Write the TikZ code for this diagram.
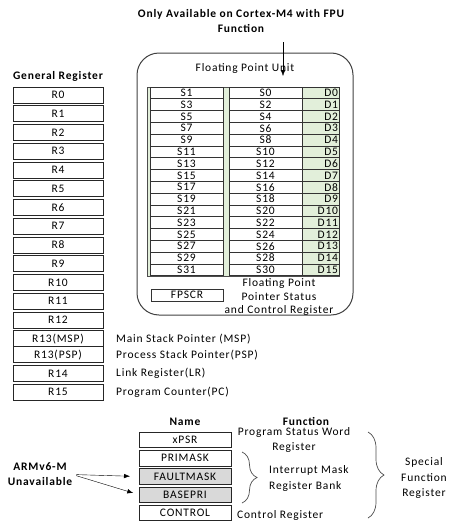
\documentclass[tikz,border=0pt]{standalone}
\usepackage{fontspec}
\setmainfont{Carlito}[LetterSpace=7]
\usetikzlibrary{positioning, arrows.meta, decorations.pathreplacing}

\definecolor{fpgreen}{RGB}{226,239,218}
\definecolor{maskgray}{RGB}{217,217,217}
\newcommand\dfont{\fontsize{11.5}{14}\selectfont}

\tikzset{
	every node/.style = {font=\dfont},
	reg/.style		= {draw=black!85, line width=0.9pt, minimum width=90pt, minimum height=16pt, inner sep=0pt, outer sep=0pt},
	spec/.style		= {reg, minimum width=92pt, minimum height=15.5pt},
	scell/.style	= {draw=black!80, line width=0.7pt, fill=white, minimum width=73pt, minimum height=11.8pt, inner sep=0pt, outer sep=0pt},
	dcell/.style	= {scell, fill=fpgreen, minimum width=37pt, text width=35pt, align=right},
	fpubox/.style	= {draw=black!75, line width=1pt, rounded corners=22pt, minimum width=216pt, minimum height=262pt},
	title/.style	= {font=\dfont\bfseries, inner sep=0pt},
	note/.style		= {inner sep=0pt},
	brc/.style		= {draw=black!70, line width=0.7pt, decorate, decoration={brace, amplitude=15pt}},
}

\begin{document}
\begin{tikzpicture}[x=1pt, y=-1pt, >={Latex[length=6pt, width=4.5pt]}]
	\useasboundingbox (0,0) rectangle (458,530);

	% general registers
	\node[title] 	(gentitle)	at (58,76)				{General Register};
	\node[reg] 		(r0)		at (58,95)				{R0};
	\node[reg] 		(r1)		[below=2.75pt of r0]	{R1};
	\node[reg] 		(r2)		[below=2.75pt of r1]	{R2};
	\node[reg] 		(r3)		[below=2.75pt of r2]	{R3};
	\node[reg] 		(r4)		[below=2.75pt of r3]	{R4};
	\node[reg] 		(r5)		[below=2.75pt of r4]	{R5};
	\node[reg] 		(r6)		[below=2.75pt of r5]	{R6};
	\node[reg] 		(r7)		[below=2.75pt of r6]	{R7};
	\node[reg] 		(r8)		[below=2.75pt of r7]	{R8};
	\node[reg] 		(r9)		[below=2.75pt of r8]	{R9};
	\node[reg] 		(r10)		[below=2.75pt of r9]	{R10};
	\node[reg] 		(r11)		[below=2.75pt of r10]	{R11};
	\node[reg] 		(r12)		[below=2.75pt of r11]	{R12};
	\node[reg] 		(msp)		[below=2.75pt of r12]	{R13(MSP)};
	\node[reg] 		(psp)		[below=0pt of msp]		{R13(PSP)};
	\node[reg] 		(r14)		[below=2.75pt of psp]	{R14};
	\node[reg] 		(r15)		[below=2.75pt of r14]	{R15};

	\node[note] 	(msptxt)	[right=13pt of msp]		{Main Stack Pointer (MSP)};
	\node[note] 	(psptxt)	[right=13pt of psp]		{Process Stack Pointer(PSP)};
	\node[note] 	(lrtxt)		[right=13pt of r14]		{Link Register(LR)};
	\node[note] 	(pctxt)		[right=13pt of r15]		{Program Counter(PC)};

	% floating point unit
	\node[title, align=center] (avail) at (241,21.5) {Only Available on Cortex-M4 with FPU\\[1pt]Function};
	\node[fpubox] 	(fpu)		at (245,184)			{};
	\node[note] 	(fputitle)	[below=11pt of fpu.north] {Floating Point Unit};
	\coordinate 	(fpuarrow)	at (283,42);
	\coordinate 	(fpuin)		at (283,76);
	\draw[->] (fpuarrow) -- (fpuin);

	\fill[fpgreen, draw=black!70, line width=0.7pt] (147,87) rectangle (339,276);
	\node[scell] 	(s1)		at (186.5,92.9)			{S1};
	\node[scell] 	(s0)		[right=6pt of s1]		{S0};
	\node[dcell] 	(d0)		[right=0pt of s0]		{D0};
	\node[scell] 	(s3)		[below=0pt of s1]		{S3};
	\node[scell] 	(s2)		[right=6pt of s3]		{S2};
	\node[dcell] 	(d1)		[right=0pt of s2]		{D1};
	\node[scell] 	(s5)		[below=0pt of s3]		{S5};
	\node[scell] 	(s4)		[right=6pt of s5]		{S4};
	\node[dcell] 	(d2)		[right=0pt of s4]		{D2};
	\node[scell] 	(s7)		[below=0pt of s5]		{S7};
	\node[scell] 	(s6)		[right=6pt of s7]		{S6};
	\node[dcell] 	(d3)		[right=0pt of s6]		{D3};
	\node[scell] 	(s9)		[below=0pt of s7]		{S9};
	\node[scell] 	(s8)		[right=6pt of s9]		{S8};
	\node[dcell] 	(d4)		[right=0pt of s8]		{D4};
	\node[scell] 	(s11)		[below=0pt of s9]		{S11};
	\node[scell] 	(s10)		[right=6pt of s11]		{S10};
	\node[dcell] 	(d5)		[right=0pt of s10]		{D5};
	\node[scell] 	(s13)		[below=0pt of s11]		{S13};
	\node[scell] 	(s12)		[right=6pt of s13]		{S12};
	\node[dcell] 	(d6)		[right=0pt of s12]		{D6};
	\node[scell] 	(s15)		[below=0pt of s13]		{S15};
	\node[scell] 	(s14)		[right=6pt of s15]		{S14};
	\node[dcell] 	(d7)		[right=0pt of s14]		{D7};
	\node[scell] 	(s17)		[below=0pt of s15]		{S17};
	\node[scell] 	(s16)		[right=6pt of s17]		{S16};
	\node[dcell] 	(d8)		[right=0pt of s16]		{D8};
	\node[scell] 	(s19)		[below=0pt of s17]		{S19};
	\node[scell] 	(s18)		[right=6pt of s19]		{S18};
	\node[dcell] 	(d9)		[right=0pt of s18]		{D9};
	\node[scell] 	(s21)		[below=0pt of s19]		{S21};
	\node[scell] 	(s20)		[right=6pt of s21]		{S20};
	\node[dcell] 	(d10)		[right=0pt of s20]		{D10};
	\node[scell] 	(s23)		[below=0pt of s21]		{S23};
	\node[scell] 	(s22)		[right=6pt of s23]		{S22};
	\node[dcell] 	(d11)		[right=0pt of s22]		{D11};
	\node[scell] 	(s25)		[below=0pt of s23]		{S25};
	\node[scell] 	(s24)		[right=6pt of s25]		{S24};
	\node[dcell] 	(d12)		[right=0pt of s24]		{D12};
	\node[scell] 	(s27)		[below=0pt of s25]		{S27};
	\node[scell] 	(s26)		[right=6pt of s27]		{S26};
	\node[dcell] 	(d13)		[right=0pt of s26]		{D13};
	\node[scell] 	(s29)		[below=0pt of s27]		{S29};
	\node[scell] 	(s28)		[right=6pt of s29]		{S28};
	\node[dcell] 	(d14)		[right=0pt of s28]		{D14};
	\node[scell] 	(s31)		[below=0pt of s29]		{S31};
	\node[scell] 	(s30)		[right=6pt of s31]		{S30};
	\node[dcell] 	(d15)		[right=0pt of s30]		{D15};

	\node[scell, minimum width=72pt] (fpscr) at (187,295) {FPSCR};
	\node[note, align=center, font=\fontsize{11.5}{13.5}\selectfont] (fpscrtxt) at (279,297) {Floating Point\\Pointer Status\\and Control Register};

	% special registers
	\node[spec] 	(xpsr)		at (185,440)			{xPSR};
	\node[spec] 	(primask)	[below=2.75pt of xpsr]	{PRIMASK};
	\node[spec, fill=maskgray] (faultmask) [below=2.75pt of primask] {FAULTMASK};
	\node[spec, fill=maskgray] (basepri) [below=2.75pt of faultmask] {BASEPRI};
	\node[spec] 	(control)	[below=2.75pt of basepri] {CONTROL};
	\node[title] 	(name)		[above=6pt of xpsr]		{Name};
	\node[title] 	(func)		at (306,421)			{Function};

	\node[note, align=center] (psw)	at (294,439.5)	{Program Status Word\\[1pt]Register};
	\node[note, align=left, anchor=west] (imask) at (269,478) {Interrupt Mask\\[2pt]Register Bank};
	\node[note, anchor=west] (ctrl)	at (237,515)	{Control Register};
	\node[note, align=center] (sfr) at (424,478) {Special\\[1.5pt]Function\\[1.5pt]Register};

	\draw[brc] (242,452) -- (242,503);
	\draw[brc, decoration={amplitude=16pt}] (368,432) -- (368,518);

	\node[title, align=center] (armv6) at (40,474.5) {ARMv6-M\\[1pt]Unavailable};
	\draw[->, shorten <=4pt, shorten >=9pt] (armv6.east) -- (faultmask.west);
	\draw[->, shorten <=4pt, shorten >=6pt] (armv6.east) -- (basepri.west);
\end{tikzpicture}
\end{document}
